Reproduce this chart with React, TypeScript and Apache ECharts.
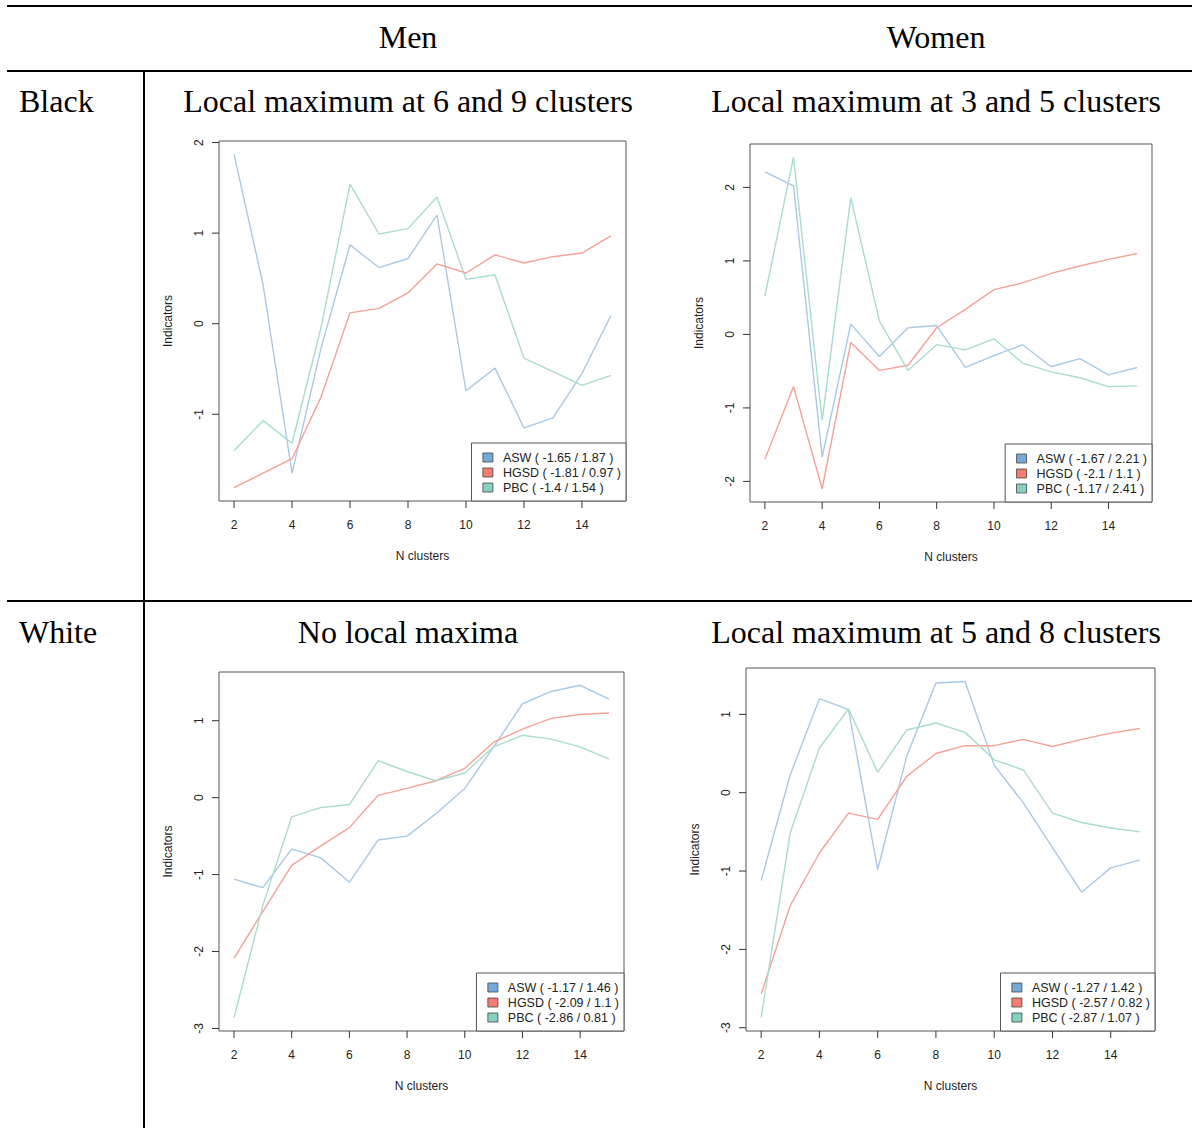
import React, { useEffect, useRef } from "react";
import * as echarts from "echarts";

// ---- Data ----
const nClusters = [2, 3, 4, 5, 6, 7, 8, 9, 10, 11, 12, 13, 14, 15];
const indicatorNames = ["ASW", "HGSD", "PBC"];
const columnHeaders = ["Men", "Women"];
const rowHeaders = ["Black", "White"];
const panelTitles = [
  "Local maximum at 6 and 9 clusters",
  "Local maximum at 3 and 5 clusters",
  "No local maxima",
  "Local maximum at 5 and 8 clusters",
];

const blackMenASW = [1.87, 0.43, -1.65, -0.27, 0.87, 0.62, 0.72, 1.2, -0.74, -0.49, -1.15, -1.04, -0.55, 0.09];
const blackMenHGSD = [-1.81, -1.65, -1.49, -0.81, 0.12, 0.17, 0.34, 0.66, 0.56, 0.76, 0.67, 0.74, 0.78, 0.97];
const blackMenPBC = [-1.4, -1.07, -1.32, -0.04, 1.54, 0.99, 1.05, 1.4, 0.49, 0.54, -0.38, -0.53, -0.68, -0.57];

const blackWomenASW = [2.21, 2.02, -1.67, 0.14, -0.3, 0.09, 0.12, -0.45, -0.29, -0.14, -0.44, -0.33, -0.55, -0.45];
const blackWomenHGSD = [-1.7, -0.71, -2.1, -0.11, -0.49, -0.42, 0.09, 0.34, 0.61, 0.7, 0.83, 0.93, 1.02, 1.1];
const blackWomenPBC = [0.52, 2.41, -1.17, 1.86, 0.18, -0.49, -0.14, -0.21, -0.06, -0.39, -0.51, -0.59, -0.71, -0.7];

const whiteMenASW = [-1.06, -1.17, -0.67, -0.78, -1.1, -0.55, -0.5, -0.21, 0.12, 0.66, 1.22, 1.38, 1.46, 1.28];
const whiteMenHGSD = [-2.09, -1.48, -0.88, -0.63, -0.39, 0.03, 0.12, 0.22, 0.38, 0.72, 0.89, 1.03, 1.08, 1.1];
const whiteMenPBC = [-2.86, -1.4, -0.25, -0.13, -0.09, 0.48, 0.34, 0.22, 0.32, 0.66, 0.81, 0.76, 0.66, 0.5];

const whiteWomenASW = [-1.12, 0.23, 1.2, 1.06, -0.98, 0.47, 1.4, 1.42, 0.35, -0.13, -0.7, -1.27, -0.96, -0.86];
const whiteWomenHGSD = [-2.57, -1.44, -0.77, -0.26, -0.34, 0.21, 0.5, 0.6, 0.6, 0.68, 0.59, 0.68, 0.76, 0.82];
const whiteWomenPBC = [-2.87, -0.51, 0.57, 1.07, 0.26, 0.8, 0.89, 0.77, 0.42, 0.29, -0.26, -0.38, -0.45, -0.5];

const xTicks = [2, 4, 6, 8, 10, 12, 14];

// ---- Styles ----
const lineColors = ["#a9c8e6", "#f6a196", "#a8dccd"];
const legendColors = ["#74aad8", "#f47c70", "#86d0c1"];
const SANS = "'Liberation Sans', Arial, Helvetica, sans-serif";
const SERIF = "'Liberation Serif', 'Times New Roman', serif";
const TICK_LEN = 7;

const W = 1192;
const H = 1128;

const panels = [
  { title: panelTitles[0], data: [blackMenASW, blackMenHGSD, blackMenPBC], grid: { left: 219, top: 141, width: 407, height: 360 }, titlePos: [408, 101] },
  { title: panelTitles[1], data: [blackWomenASW, blackWomenHGSD, blackWomenPBC], grid: { left: 750, top: 144, width: 402, height: 358 }, titlePos: [936, 101] },
  { title: panelTitles[2], data: [whiteMenASW, whiteMenHGSD, whiteMenPBC], grid: { left: 219, top: 672, width: 405, height: 359 }, titlePos: [408, 632] },
  { title: panelTitles[3], data: [whiteWomenASW, whiteWomenHGSD, whiteWomenPBC], grid: { left: 746, top: 668, width: 409, height: 363 }, titlePos: [936, 632] },
];

const fmt = (v: number) => String(Math.round(v * 100) / 100);

function buildOption() {
  const grids: any[] = [];
  const xAxes: any[] = [];
  const yAxes: any[] = [];
  const series: any[] = [];
  const legends: any[] = [];
  const graphics: any[] = [];

  panels.forEach((p, pi) => {
    grids.push({
      left: p.grid.left,
      top: p.grid.top,
      width: p.grid.width,
      height: p.grid.height,
      show: true,
      borderColor: "#555",
      borderWidth: 1,
      backgroundColor: "transparent",
      containLabel: false,
    });
    const xMinD = Math.min(...nClusters);
    const xMaxD = Math.max(...nClusters);
    const xPad = (xMaxD - xMinD) * 0.04;
    const xMin = xMinD - xPad;
    const xMax = xMaxD + xPad;
    xAxes.push({
      type: "value",
      gridIndex: pi,
      position: "bottom",
      min: xMin,
      max: xMax,
      axisLine: { show: false, onZero: false },
      splitLine: { show: false },
      axisTick: { show: false },
      axisLabel: { customValues: xTicks, margin: 18, color: "#222", fontFamily: SANS, fontSize: 12 },
      name: "N clusters",
      nameLocation: "middle",
      nameGap: 49,
      nameTextStyle: { color: "#222", fontFamily: SANS, fontSize: 12 },
    });
    const all = p.data.flat();
    const lo = Math.min(...all);
    const hi = Math.max(...all);
    const yPad = (hi - lo) * 0.04;
    const yMin = lo - yPad;
    const yMax = hi + yPad;
    const yTicks: number[] = [];
    for (let t = Math.ceil(yMin); t <= Math.floor(yMax); t++) yTicks.push(t);
    yAxes.push({
      type: "value",
      gridIndex: pi,
      position: "left",
      min: yMin,
      max: yMax,
      axisLine: { show: false, onZero: false },
      splitLine: { show: false },
      axisTick: { show: false },
      axisLabel: { customValues: yTicks, rotate: 90, margin: 14, color: "#222", fontFamily: SANS, fontSize: 12 },
      name: "Indicators",
      nameLocation: "middle",
      nameGap: 45,
      nameTextStyle: { color: "#222", fontFamily: SANS, fontSize: 12 },
    });

    // outward tick marks placed through the axes' own scales
    series.push({
      type: "custom",
      xAxisIndex: pi,
      yAxisIndex: pi,
      silent: true,
      clip: false,
      data: xTicks.map((t) => [t, yMin]),
      renderItem: (_params: any, api: any) => {
        const c = api.coord([api.value(0), api.value(1)]);
        return {
          type: "line",
          shape: { x1: c[0], y1: c[1], x2: c[0], y2: c[1] + TICK_LEN },
          style: { stroke: "#333", lineWidth: 1 },
        };
      },
      z: 1,
    });
    series.push({
      type: "custom",
      xAxisIndex: pi,
      yAxisIndex: pi,
      silent: true,
      clip: false,
      data: yTicks.map((t) => [xMin, t]),
      renderItem: (_params: any, api: any) => {
        const c = api.coord([api.value(0), api.value(1)]);
        return {
          type: "line",
          shape: { x1: c[0], y1: c[1], x2: c[0] - TICK_LEN, y2: c[1] },
          style: { stroke: "#333", lineWidth: 1 },
        };
      },
      z: 1,
    });

    const names: string[] = [];
    p.data.forEach((vals, k) => {
      const name = `${indicatorNames[k]} ( ${fmt(Math.min(...vals))} / ${fmt(Math.max(...vals))} )`;
      names.push(name);
      series.push({
        type: "line",
        name,
        xAxisIndex: pi,
        yAxisIndex: pi,
        data: nClusters.map((x, i) => [x, vals[i]]),
        showSymbol: false,
        symbol: "none",
        silent: true,
        color: legendColors[k],
        lineStyle: { color: lineColors[k], width: 1.4 },
        z: 3,
      });
    });
    legends.push({
      orient: "vertical",
      right: W - (p.grid.left + p.grid.width),
      bottom: H - (p.grid.top + p.grid.height),
      padding: [8, 5, 7, 11],
      itemGap: 2,
      itemWidth: 10,
      itemHeight: 9,
      icon: "rect",
      selectedMode: false,
      borderColor: "#555",
      borderWidth: 1,
      backgroundColor: "#fff",
      textStyle: { fontFamily: SANS, fontSize: 12.5, color: "#222", padding: [0, 0, 0, 5] },
      data: names.map((n, k) => ({
        name: n,
        itemStyle: { color: legendColors[k], borderColor: "#444", borderWidth: 0.8 },
      })),
    });
    graphics.push({
      type: "text",
      x: p.titlePos[0],
      y: p.titlePos[1],
      style: { text: p.title, fill: "#000", font: `32px ${SERIF}`, textAlign: "center", textVerticalAlign: "middle" },
    });
  });

  // table lines
  const lineStyle = { stroke: "#000", lineWidth: 2 };
  graphics.push({ type: "line", shape: { x1: 7, y1: 6, x2: W, y2: 6 }, style: lineStyle });
  graphics.push({ type: "line", shape: { x1: 7, y1: 71, x2: W, y2: 71 }, style: lineStyle });
  graphics.push({ type: "line", shape: { x1: 144, y1: 71, x2: 144, y2: H }, style: lineStyle });
  graphics.push({ type: "line", shape: { x1: 7, y1: 601, x2: W, y2: 601 }, style: lineStyle });

  // headers
  [408, 936].forEach((cx, i) => {
    graphics.push({
      type: "text",
      x: cx,
      y: 37,
      style: { text: columnHeaders[i], fill: "#000", font: `32px ${SERIF}`, textAlign: "center", textVerticalAlign: "middle" },
    });
  });
  [101, 632].forEach((cy, i) => {
    graphics.push({
      type: "text",
      x: 19,
      y: cy,
      style: { text: rowHeaders[i], fill: "#000", font: `32px ${SERIF}`, textAlign: "left", textVerticalAlign: "middle" },
    });
  });

  return {
    animation: false,
    backgroundColor: "#fff",
    grid: grids,
    xAxis: xAxes,
    yAxis: yAxes,
    series,
    legend: legends,
    graphic: graphics,
  };
}

export default function App() {
  const ref = useRef<HTMLDivElement>(null);
  useEffect(() => {
    document.body.style.margin = "0";
    if (!ref.current) return;
    const chart = echarts.init(ref.current, undefined, { renderer: "svg" });
    chart.setOption(buildOption() as any);
    return () => chart.dispose();
  }, []);
  return <div ref={ref} style={{ width: W, height: H }} />;
}
